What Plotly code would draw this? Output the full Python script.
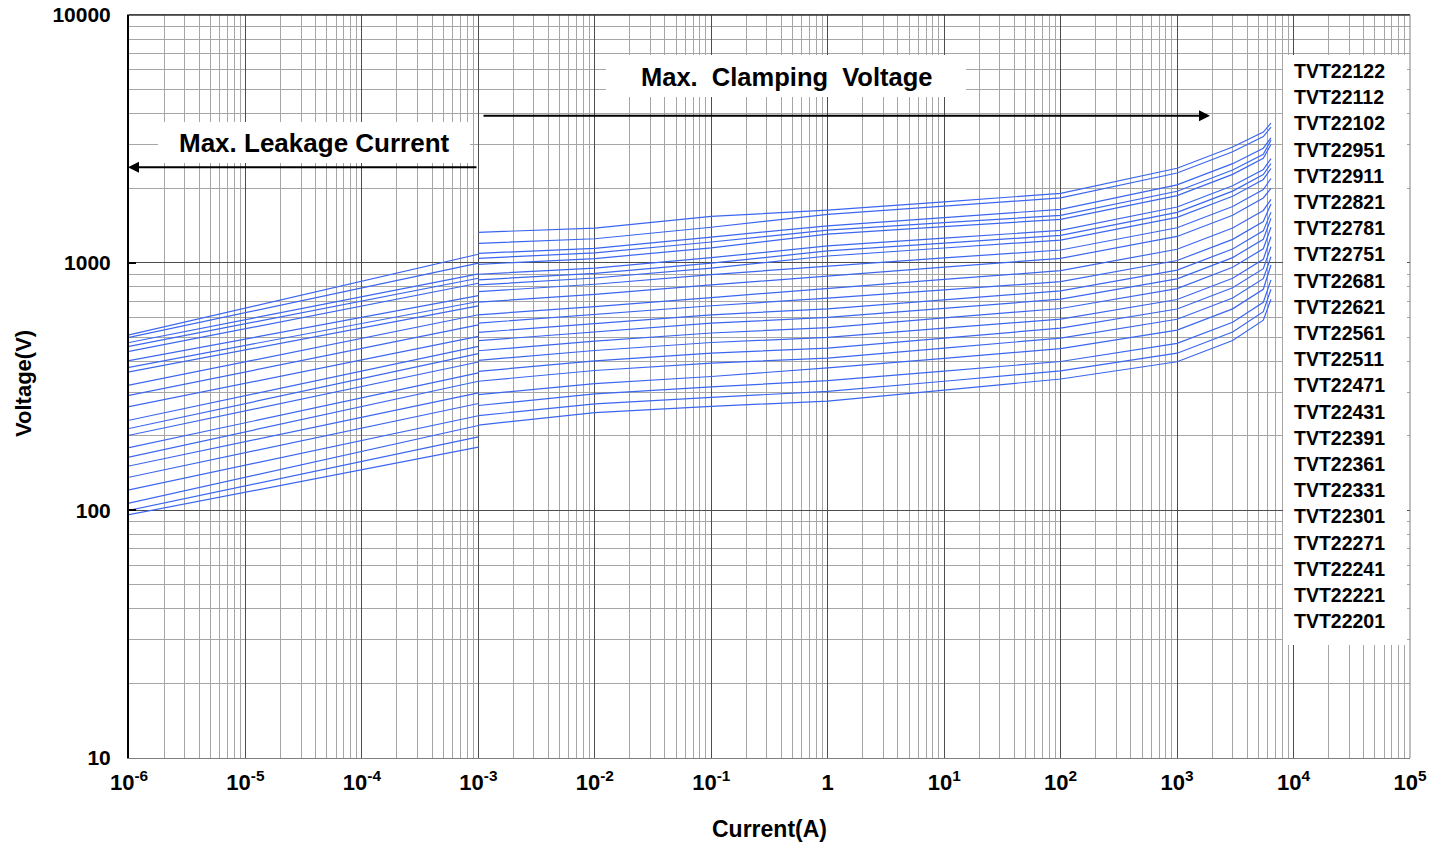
import plotly.graph_objects as go

# ---------------- data ----------------
models = ["TVT22122", "TVT22112", "TVT22102", "TVT22951", "TVT22911", "TVT22821",
          "TVT22781", "TVT22751", "TVT22681", "TVT22621", "TVT22561", "TVT22511",
          "TVT22471", "TVT22431", "TVT22391", "TVT22361", "TVT22331", "TVT22301",
          "TVT22271", "TVT22241", "TVT22221", "TVT22201"]

# leakage region: current (A) and voltage (V) at both ends
leak_current = [1e-6, 1e-3]
leak_start = [511, 499, 476, 459, 438, 402, 378, 362, 320, 291, 262, 231, 214, 201, 179, 164, 151, 136, 121, 107, 100, 96]
leak_end = [1081, 995, 901, 865, 826, 736, 697, 669, 616, 561, 504, 459, 429, 397, 359, 332, 298, 270, 241, 220, 198, 180]

# clamping region
clamp_current = [1e-3, 1e-2, 1e-1, 1, 10, 100, 1000, 3000, 5500, 6400]
clamp_voltage = [
    [1326, 1379, 1538, 1630, 1761, 1903, 2405, 2931, 3368, 3663],
    [1197, 1249, 1390, 1566, 1691, 1827, 2301, 2804, 3230, 3529],
    [1091, 1143, 1269, 1409, 1521, 1641, 2060, 2510, 2898, 3188],
    [1041, 1095, 1212, 1354, 1450, 1552, 1942, 2366, 2738, 3120],
    [985, 1039, 1148, 1305, 1397, 1496, 1865, 2272, 2637, 2998],
    [898, 951, 1048, 1168, 1256, 1350, 1678, 2044, 2377, 2633],
    [852, 906, 996, 1115, 1199, 1289, 1596, 1945, 2267, 2514],
    [813, 867, 951, 1064, 1146, 1234, 1523, 1855, 2168, 2400],
    [764, 818, 895, 970, 1045, 1125, 1383, 1685, 1974, 2187],
    [693, 744, 813, 886, 960, 1041, 1276, 1554, 1825, 1993],
    [616, 664, 723, 789, 856, 928, 1133, 1380, 1625, 1800],
    [570, 617, 670, 719, 776, 838, 1020, 1242, 1466, 1724],
    [523, 568, 616, 651, 708, 769, 933, 1136, 1344, 1600],
    [484, 527, 570, 601, 654, 712, 860, 1048, 1243, 1510],
    [441, 482, 520, 547, 598, 653, 786, 958, 1138, 1389],
    [403, 442, 476, 499, 544, 592, 710, 865, 1031, 1273],
    [364, 401, 431, 452, 496, 544, 650, 792, 946, 1160],
    [332, 367, 393, 412, 452, 496, 591, 720, 862, 1057],
    [293, 325, 347, 376, 411, 450, 534, 651, 781, 979],
    [265, 295, 315, 334, 365, 399, 472, 575, 692, 852],
    [241, 269, 286, 302, 332, 366, 431, 525, 634, 781],
    [221, 248, 263, 276, 306, 339, 398, 485, 586, 712],
]

x_tick_vals = [1e-6, 1e-5, 1e-4, 1e-3, 1e-2, 1e-1, 1, 10, 100, 1e3, 1e4, 1e5]
x_tick_text = ["10<sup>-6</sup>", "10<sup>-5</sup>", "10<sup>-4</sup>", "10<sup>-3</sup>",
               "10<sup>-2</sup>", "10<sup>-1</sup>", "1", "10<sup>1</sup>", "10<sup>2</sup>",
               "10<sup>3</sup>", "10<sup>4</sup>", "10<sup>5</sup>"]
y_tick_vals = [10, 100, 1000, 10000]
y_tick_text = ["10", "100", "1000", "10000"]

# ---------------- figure ----------------
LINE = "#3b66f0"
FONT = "Arial, Liberation Sans, sans-serif"

fig = go.Figure()
for name, v0, v1, cv in zip(models, leak_start, leak_end, clamp_voltage):
    xs = leak_current + [None] + clamp_current
    ys = [v0, v1] + [None] + cv
    fig.add_trace(go.Scatter(x=xs, y=ys, mode="lines", name=name,
                             line=dict(color=LINE, width=1.2),
                             connectgaps=False, showlegend=False,
                             hoverinfo="x+y+name"))

minor_x = [m * 10 ** e for e in range(-6, 5) for m in range(2, 10)]
minor_y = [m * 10 ** e for e in range(1, 4) for m in range(2, 10)]

L, R, T, B = 129, 36, 15, 88
W, H = 1446, 846
pw, ph = W - L - R, H - T - B


def px(x):
    return (x - L) / pw


def py(y):
    return (H - B - y) / ph


fig.update_layout(
    width=W, height=H,
    margin=dict(l=L, r=R, t=T, b=B, autoexpand=False),
    paper_bgcolor="white", plot_bgcolor="white",
    font=dict(family=FONT, color="black"),
    xaxis=dict(type="log", range=[-6, 5], tickvals=x_tick_vals, ticktext=x_tick_text,
               tickfont=dict(size=22, family=FONT, weight="bold"),
               showgrid=True, gridcolor="#4d4d4d", gridwidth=1,
               minor=dict(tickvals=minor_x, showgrid=True, gridcolor="#a6a6a6", gridwidth=1, ticks=""),
               showline=True, linecolor="#808080", linewidth=1, mirror=True,
               ticks="", ticklabelstandoff=5, zeroline=False, automargin=False),
    yaxis=dict(type="log", range=[1, 4], tickvals=y_tick_vals, ticktext=y_tick_text,
               tickfont=dict(size=21, family=FONT, weight="bold"),
               showgrid=True, gridcolor="#4d4d4d", gridwidth=1,
               minor=dict(tickvals=minor_y, showgrid=True, gridcolor="#a6a6a6", gridwidth=1, ticks=""),
               showline=True, linecolor="black", linewidth=2, mirror=False,
               ticks="inside", ticklen=7, tickcolor="black", tickwidth=2,
               ticklabelstandoff=12, zeroline=False, automargin=False),
)

# axis titles
fig.add_annotation(x=px(769), y=py(829), xref="paper", yref="paper", showarrow=False,
                   text="Current(A)", font=dict(size=23, family=FONT, weight="bold"),
                   xanchor="center", yanchor="middle")
fig.add_annotation(x=px(23), y=py(384), xref="paper", yref="paper", showarrow=False,
                   text="Voltage(V)", textangle=-90, font=dict(size=22, family=FONT, weight="bold"),
                   xanchor="center", yanchor="middle")

# top / right frame lines
fig.add_shape(type="line", xref="paper", yref="paper", x0=0, x1=1, y0=1, y1=1,
              line=dict(color="#333333", width=1.5), layer="above")
fig.add_shape(type="line", xref="paper", yref="paper", x0=1, x1=1, y0=0, y1=1,
              line=dict(color="#808080", width=1), layer="above")

# white boxes behind texts
for (x0, x1, y0, y1) in [(158, 470, 122, 163), (606, 966, 55, 97), (1283, 1407, 55, 645)]:
    fig.add_shape(type="rect", xref="paper", yref="paper",
                  x0=px(x0), x1=px(x1), y0=py(y1), y1=py(y0),
                  fillcolor="white", line=dict(width=0), layer="above")

fig.add_annotation(x=px(314), y=py(143), xref="paper", yref="paper", showarrow=False,
                   text="Max. Leakage Current", font=dict(size=26, family=FONT, weight="bold"),
                   xanchor="center", yanchor="middle")
fig.add_annotation(x=px(786), y=py(77), xref="paper", yref="paper", showarrow=False,
                   text="Max.  Clamping  Voltage", font=dict(size=25.5, family=FONT, weight="bold"),
                   xanchor="center", yanchor="middle")

# arrows
fig.add_annotation(x=px(1210), y=py(115.7), xref="paper", yref="paper",
                   ax=482 - 1210, ay=0, axref="pixel", ayref="pixel", text="",
                   showarrow=True, arrowhead=2, arrowsize=1.1, arrowwidth=2, arrowcolor="black")
fig.add_annotation(x=px(128), y=py(167.3), xref="paper", yref="paper",
                   ax=478 - 128, ay=0, axref="pixel", ayref="pixel", text="",
                   showarrow=True, arrowhead=2, arrowsize=1.1, arrowwidth=2, arrowcolor="black")

# model list
for k, name in enumerate(models):
    fig.add_annotation(x=px(1292), y=py(71 + k * 26.2), xref="paper", yref="paper",
                       showarrow=False, text=name, xanchor="left", yanchor="middle",
                       font=dict(size=19.5, family=FONT, weight="bold"))

fig.write_html("out.html")
